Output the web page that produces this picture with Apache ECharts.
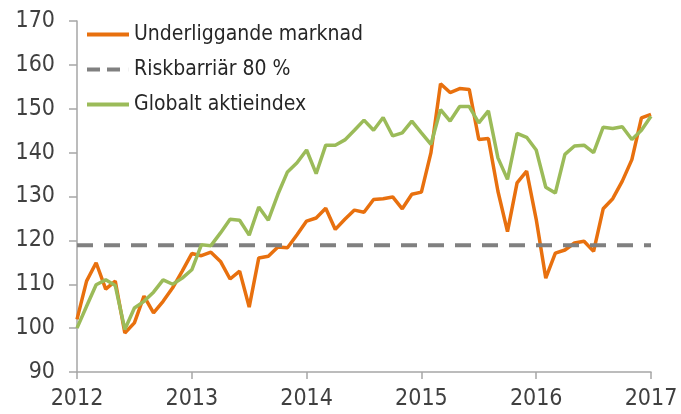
<!DOCTYPE html>
<html><head><meta charset="utf-8">
<script src="https://cdn.jsdelivr.net/npm/echarts@6/dist/echarts.min.js"></script>
<style>html,body{margin:0;padding:0;background:#fff}#c{width:681px;height:414px}</style>
</head><body><div id="c"></div>
<script>
const startYear = 2012;
const yearTicks = [2012, 2013, 2014, 2015, 2016, 2017];
const seriesNames = ['Underliggande marknad', 'Riskbarriär 80 %', 'Globalt aktieindex'];
// monthly values, Jan 2012 .. Jan 2017
const underlying = [102,110.7,114.9,108.9,110.7,98.9,101.2,107.3,103.5,106.1,109.2,113,
  117,116.5,117.3,115.2,111.2,113,104.8,116,116.4,118.5,118.3,121.3,
  124.4,125.1,127.3,122.5,124.8,126.9,126.4,129.3,129.5,129.9,127.2,130.5,
  131,140,155.7,153.7,154.6,154.4,143,143.2,131.2,122,133.1,135.8,
  124.8,111.4,117.1,117.8,119.4,119.8,117.5,127.2,129.5,133.5,138.4,147.9,148.7];
const globalIdx = [100,105,109.9,111,109.7,99.7,104.6,106.1,108.2,111,110,111.4,
  113.3,119,118.8,121.7,124.8,124.6,121.2,127.6,124.6,130.5,135.6,137.7,
  140.6,135.2,141.7,141.7,142.9,145.1,147.4,145.1,148,143.8,144.5,147.2,
  144.5,141.9,149.8,147.2,150.5,150.5,146.8,149.5,138.8,133.9,144.4,143.5,
  140.6,132.1,130.8,139.6,141.5,141.7,140,145.8,145.5,145.9,143,145.1,148.3];
const barrierValue = 118.9;
const barrierSpan = [2012, 2017];

const toXY = arr => arr.map((v, i) => [startYear + i / 12, v]);
const font = '"DejaVu Sans", sans-serif';
const txt = {fontFamily: font, fontWeight: 'condensed', fontSize: 23, color: '#404040'};
const chart = echarts.init(document.getElementById('c'));
chart.setOption({
  animation: false,
  grid: {left: 77, right: 30, top: 21, bottom: 42},
  legend: {
    orient: 'vertical', left: 87, top: 24, padding: 0, itemWidth: 42, itemHeight: 4, itemGap: 14,
    data: [
      {name: seriesNames[0], icon: 'rect'},
      {name: seriesNames[1], icon: 'path://M0,0H13V4H0Z M20,0H33V4H20Z M41.9,0H42V4H41.9Z'},
      {name: seriesNames[2], icon: 'rect'}
    ],
    textStyle: Object.assign({}, txt, {fontSize: 21, color: '#262626', lineHeight: 21})
  },
  xAxis: {
    type: 'value', min: 2012, max: 2017, interval: 1,
    axisLine: {show: true, lineStyle: {color: '#a6a6a6', width: 1.5}},
    axisTick: {show: true, length: 7, lineStyle: {color: '#a6a6a6', width: 1.5}},
    splitLine: {show: false},
    axisLabel: Object.assign({}, txt, {margin: 16,
      formatter: v => yearTicks.includes(v) ? String(v) : ''})
  },
  yAxis: {
    type: 'value', min: 90, max: 170, interval: 10,
    axisLine: {show: true, lineStyle: {color: '#a6a6a6', width: 1.5}},
    axisTick: {show: true, length: 8, lineStyle: {color: '#a6a6a6', width: 1.5}},
    splitLine: {show: false},
    axisLabel: Object.assign({}, txt, {margin: 22})
  },
  series: [
    {name: seriesNames[0], type: 'line', data: toXY(underlying), symbol: 'none',
      lineStyle: {color: '#E8700E', width: 3.5}, itemStyle: {color: '#E8700E'}},
    {name: seriesNames[1], type: 'line', data: barrierSpan.map(x => [x, barrierValue]), symbol: 'none',
      lineStyle: {color: '#808080', width: 4, type: [16, 11]}, itemStyle: {color: '#808080'}},
    {name: seriesNames[2], type: 'line', data: toXY(globalIdx), symbol: 'none',
      lineStyle: {color: '#9BBB59', width: 3.5}, itemStyle: {color: '#9BBB59'}}
  ]
});
</script></body></html>
